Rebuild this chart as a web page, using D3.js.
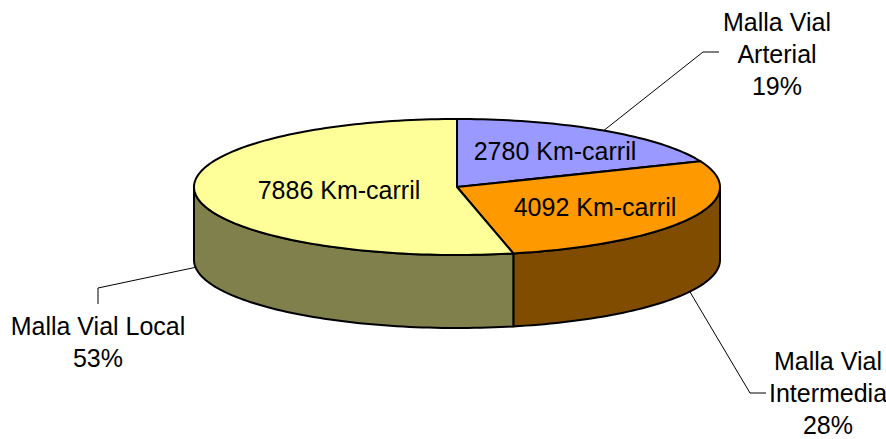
<!DOCTYPE html>
<html>
<head>
<meta charset="utf-8">
<script src="https://cdn.jsdelivr.net/npm/d3@7"></script>
<style>
  body { margin: 0; background: #fff; }
  text { font-family: "Liberation Sans", Arial, sans-serif; font-size: 25px; fill: #000; }
</style>
</head>
<body>
<div id="container"></div>
<script>
/* DATA */
const categories = ["Malla Vial Arterial", "Malla Vial Intermedia", "Malla Vial Local"];
const kmCarril = [2780, 4092, 7886];
const percentLabels = ["19%", "28%", "53%"];
const topColors = ["#9999ff", "#ff9900", "#ffff99"];
const sideColors = ["#4d4d80", "#804d00", "#80804d"];
const categoryLines = [["Malla Vial", "Arterial"], ["Malla Vial", "Intermedia"], ["Malla Vial Local"]];

const width = 886, height = 439;
const depth = 73;

const svg = d3.select("#container").append("svg")
  .attr("width", width)
  .attr("height", height)
  .style("display", "block");

// the pie is a flat circle squashed into an ellipse
const xScale = d3.scaleLinear().domain([-1, 1]).range([194, 720]);
const yScale = d3.scaleLinear().domain([-1, 1]).range([119, 255]);

const pie = d3.pie().sort(null).value(d => d)(kmCarril);

const px = a => xScale(Math.sin(a));
const py = a => yScale(-Math.cos(a));

const line = d3.line().x(d => d[0]).y(d => d[1]);

function arcPoints(a0, a1, dy) {
  const n = Math.max(2, Math.ceil((a1 - a0) * 40));
  return d3.range(n + 1).map(i => {
    const a = a0 + (a1 - a0) * i / n;
    return [px(a), py(a) + dy];
  });
}

// Side wall, only the front half of the ellipse shows
pie.forEach((s, i) => {
  const a0 = Math.max(s.startAngle, Math.PI / 2);
  const a1 = Math.min(s.endAngle, Math.PI * 1.5);
  if (a1 <= a0) return;
  const pts = arcPoints(a0, a1, 0).concat(arcPoints(a0, a1, depth).reverse());
  svg.append("path")
    .attr("d", line(pts) + "Z")
    .attr("fill", sideColors[i])
    .attr("stroke", "#000")
    .attr("stroke-width", 2)
    .attr("stroke-linejoin", "round");
});

// Top slices
pie.forEach((s, i) => {
  const pts = [[xScale(0), yScale(0)]].concat(arcPoints(s.startAngle, s.endAngle, 0));
  svg.append("path")
    .attr("d", line(pts) + "Z")
    .attr("fill", topColors[i])
    .attr("stroke", "#000")
    .attr("stroke-width", 2)
    .attr("stroke-linejoin", "round");
});

// Leader lines: anchor on the pie, then elbow points toward the label
const leaderAnchors = [
  { a: (pie[0].startAngle + pie[0].endAngle) / 2, dy: 0 },
  { a: (pie[1].startAngle + pie[1].endAngle) / 2, dy: depth },
  { a: (pie[2].startAngle + pie[2].endAngle) / 2, dy: depth }
];
const leaderElbows = [
  [[703, 52], [719, 52]],
  [[750, 393], [766, 393]],
  [[98, 288], [98, 304]]
];
leaderAnchors.forEach((d, i) => {
  svg.append("path")
    .attr("d", line([[px(d.a), py(d.a) + d.dy]].concat(leaderElbows[i])))
    .attr("fill", "none")
    .attr("stroke", "#000")
    .attr("stroke-width", 1);
});

// Value labels on the slices
const valuePos = [[555, 151], [595, 207], [339, 190]];
kmCarril.forEach((v, i) => {
  svg.append("text")
    .attr("x", valuePos[i][0])
    .attr("y", valuePos[i][1])
    .attr("dy", "0.35em")
    .attr("text-anchor", "middle")
    .text(v + " Km-carril");
});

// Category labels
const labelPos = [[777, 22], [828, 361], [98, 326]];
categories.forEach((c, i) => {
  const rows = categoryLines[i].concat(percentLabels[i]);
  rows.forEach((r, j) => {
    svg.append("text")
      .attr("x", labelPos[i][0])
      .attr("y", labelPos[i][1] + j * 32)
      .attr("dy", "0.35em")
      .attr("text-anchor", "middle")
      .text(r);
  });
});
</script>
</body>
</html>
